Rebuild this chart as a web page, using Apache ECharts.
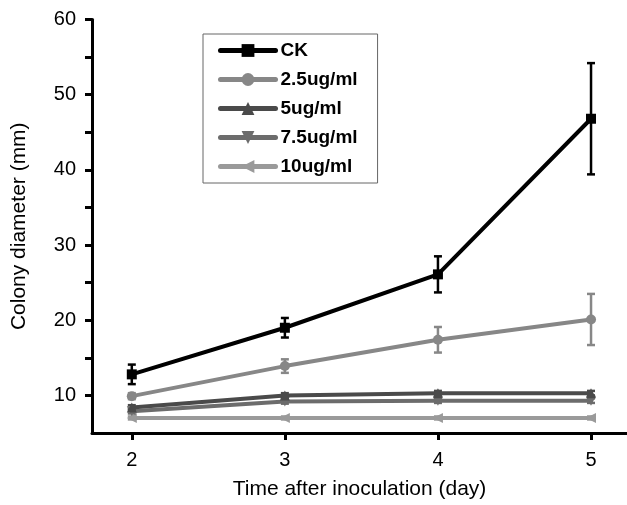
<!DOCTYPE html>
<html>
<head>
<meta charset="utf-8">
<script src="https://cdn.jsdelivr.net/npm/echarts@6/dist/echarts.min.js"></script>
<style>html,body{margin:0;padding:0;background:#fff}#c{width:627px;height:505px}</style>
</head>
<body>
<div id="c"></div>
<script>
const days = [2, 3, 4, 5];
const seriesNames = ['CK', '2.5ug/ml', '5ug/ml', '7.5ug/ml', '10ug/ml'];
const ckMean = [12.8, 19.0, 26.1, 46.8];
const ckErr = [1.3, 1.3, 2.4, 7.4];
const c25Mean = [9.9, 13.9, 17.4, 20.1];
const c25Err = [0.4, 0.9, 1.7, 3.4];
const c5Mean = [8.4, 10.0, 10.3, 10.3];
const c5Err = [0.3, 0.3, 0.3, 0.3];
const c75Mean = [7.9, 9.2, 9.3, 9.3];
const c75Err = [0.3, 0.3, 0.3, 0.3];
const c10Mean = [7.0, 7.0, 7.0, 7.0];
const c10Err = [0.2, 0.2, 0.2, 0.2];
const yTickValues = [10, 15, 20, 25, 30, 35, 40, 45, 50, 55, 60];
const yLabelValues = [10, 20, 30, 40, 50, 60];

const means = [ckMean, c25Mean, c5Mean, c75Mean, c10Mean];
const errs = [ckErr, c25Err, c5Err, c75Err, c10Err];
const colors = ['#000000', '#878787', '#4a4a4a', '#6c6c6c', '#9a9a9a'];
const symbols = ['rect', 'circle', 'triangle', 'path://M0,0 L10,0 L5,9 Z', 'path://M9,0 L9,10 L0,5 Z'];

const series = [];
means.forEach((m, i) => {
  series.push({
    name: seriesNames[i],
    type: 'line',
    data: days.map((d, j) => [d, m[j]]),
    symbol: symbols[i],
    symbolSize: 10,
    lineStyle: { color: colors[i], width: 4 },
    itemStyle: { color: colors[i] },
    z: 10 - i
  });
  series.push({
    type: 'custom',
    name: seriesNames[i] + ' err',
    data: days.map((d, j) => [d, m[j] - errs[i][j], m[j] + errs[i][j]]),
    z: 10 - i,
    renderItem: function (params, api) {
      const lo = api.coord([api.value(0), api.value(1)]);
      const hi = api.coord([api.value(0), api.value(2)]);
      const w = 4;
      const st = { stroke: colors[i], lineWidth: 2.5 };
      return {
        type: 'group',
        children: [
          { type: 'line', shape: { x1: hi[0], y1: hi[1], x2: lo[0], y2: lo[1] }, style: st },
          { type: 'line', shape: { x1: hi[0] - w, y1: hi[1], x2: hi[0] + w, y2: hi[1] }, style: st },
          { type: 'line', shape: { x1: lo[0] - w, y1: lo[1], x2: lo[0] + w, y2: lo[1] }, style: st }
        ]
      };
    },
    encode: { x: 0, y: [1, 2] },
    silent: true
  });
});

const chart = echarts.init(document.getElementById('c'));
chart.setOption({
  animation: false,
  backgroundColor: '#fff',
  grid: { left: 92, right: 0, top: 19.5, bottom: 70, containLabel: false },
  legend: {
    data: seriesNames,
    orient: 'vertical',
    left: 203,
    top: 34,
    padding: [7, 20, 7, 15],
    itemWidth: 55,
    itemHeight: 16,
    itemGap: 10,
    borderColor: '#666',
    borderWidth: 1,
    lineStyle: { width: 5, cap: 'round' },
    textStyle: { fontFamily: 'Liberation Sans, Arial', fontSize: 19, fontWeight: 'bold', color: '#000' }
  },
  xAxis: {
    type: 'value',
    min: 1.74,
    max: 5.235,
    name: 'Time after inoculation (day)',
    nameLocation: 'middle',
    nameGap: 46,
    nameTextStyle: { fontFamily: 'Liberation Sans, Arial', fontSize: 21, color: '#000' },
    axisLine: { lineStyle: { color: '#000', width: 3 } },
    axisTick: { show: true, customValues: days, length: 7, lineStyle: { color: '#000', width: 3 } },
    axisLabel: { customValues: days, margin: 17, fontFamily: 'Liberation Sans, Arial', fontSize: 20, color: '#000' },
    splitLine: { show: false }
  },
  yAxis: {
    type: 'value',
    min: 5,
    max: 60,
    name: 'Colony diameter (mm)',
    nameLocation: 'middle',
    nameGap: 62,
    nameTextStyle: { fontFamily: 'Liberation Sans, Arial', fontSize: 21, color: '#000' },
    axisLine: { show: true, lineStyle: { color: '#000', width: 3 } },
    axisTick: { show: true, customValues: yTickValues, length: 7, lineStyle: { color: '#000', width: 3 } },
    axisLabel: { customValues: yLabelValues, margin: 16, fontFamily: 'Liberation Sans, Arial', fontSize: 20, color: '#000' },
    splitLine: { show: false }
  },
  series: series
});
</script>
</body>
</html>
